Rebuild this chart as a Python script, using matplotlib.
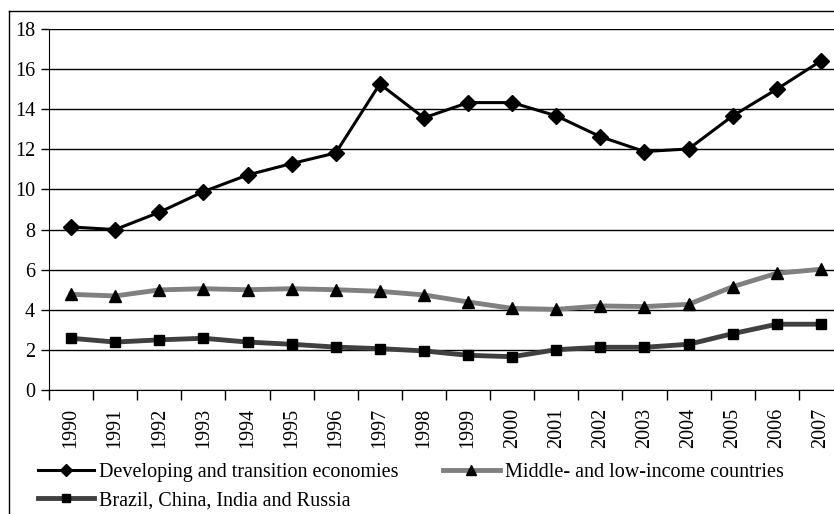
import matplotlib.pyplot as plt
from matplotlib.lines import Line2D

# Values
years = [str(y) for y in range(1990, 2008)]
developing = [8.13, 8.0, 8.86, 9.89, 10.72, 11.29, 11.82, 15.26, 13.57,
              14.33, 14.33, 13.67, 12.63, 11.89, 12.02, 13.67, 15.0, 16.41]
middle_low = [4.77, 4.69, 4.99, 5.05, 5.0, 5.05, 5.0, 4.92, 4.74,
              4.39, 4.07, 4.02, 4.19, 4.16, 4.27, 5.15, 5.82, 6.02]
bric = [2.58, 2.39, 2.5, 2.58, 2.39, 2.28, 2.14, 2.06, 1.95,
        1.73, 1.66, 2.01, 2.13, 2.13, 2.28, 2.81, 3.28, 3.28]
y_ticks = list(range(0, 19, 2))

plt.rcParams['font.family'] = ['Liberation Serif', 'DejaVu Serif']

fig = plt.figure(figsize=(8.34, 5.14), dpi=100)
ax = fig.add_axes([49 / 834, 124 / 514, 794 / 834, 361 / 514])

x = list(range(len(years)))
l1, = ax.plot(x, developing, color='black', lw=2.2, marker='D', ms=8,
              label='Developing and transition economies')
l2, = ax.plot(x, middle_low, color='#808080', lw=3.5, marker='^', ms=9,
              mfc='black', mec='black', label='Middle- and low-income countries')
l3, = ax.plot(x, bric, color='#404040', lw=3.5, marker='s', ms=7,
              mfc='black', mec='black', label='Brazil, China, India and Russia')

ax.set_xlim(-0.5, len(years) - 0.5)
ax.set_ylim(0, 18)
ax.set_yticks(y_ticks)
ax.tick_params(axis='y', labelsize=14.5, direction='out', length=6, width=1, pad=4)
ax.yaxis.grid(True, color='black', lw=1)
ax.set_axisbelow(True)

ax.set_xticks(x)
ax.set_xticklabels(years, rotation=90, fontsize=14.5)
ax.set_xticks([i - 0.5 for i in range(len(years) + 1)], minor=True)
ax.tick_params(axis='x', which='major', length=0, pad=13)
ax.tick_params(axis='x', which='minor', direction='out', length=7, width=1)

for side in ['top', 'right']:
    ax.spines[side].set_visible(False)

# outer frame of the chart area
fig.add_artist(Line2D([9 / 834, 9 / 834], [0, 503 / 514], color='black', lw=1,
                      transform=fig.transFigure))
fig.add_artist(Line2D([9 / 834, 1], [503 / 514, 503 / 514], color='black', lw=1,
                      transform=fig.transFigure))

fig.legend(handles=[l1, l3, l2], ncol=2, loc='upper left',
           bbox_to_anchor=(38 / 834, 1 - 463 / 514), frameon=False,
           fontsize=14.5, handlelength=2.8, handletextpad=0.25,
           columnspacing=2.2, labelspacing=0.45, borderaxespad=0,
           borderpad=0, markerscale=0.8)

fig.savefig('out.png', dpi=100)
